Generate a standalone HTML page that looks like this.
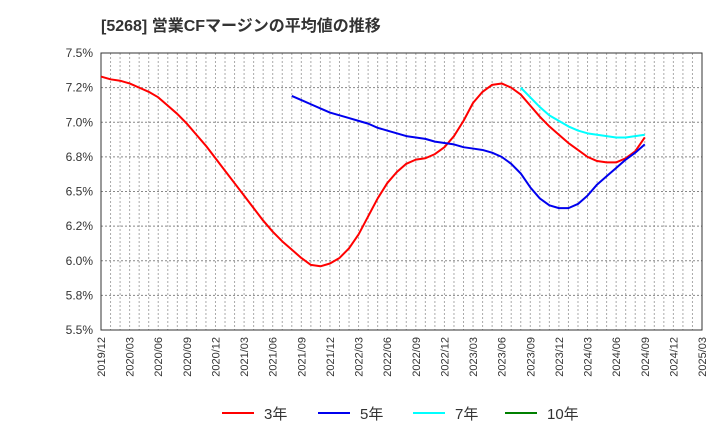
<!DOCTYPE html>
<html><head><meta charset="utf-8"><style>
body{margin:0;background:#fff;}
svg text{font-family:"Liberation Sans","Noto Sans CJK JP",sans-serif;}
</style></head><body>
<svg id="chart" width="720" height="440" xmlns="http://www.w3.org/2000/svg">
<text x="101" y="31" font-size="16" font-weight="bold" fill="#333">[5268]  営業CFマージンの平均値の推移</text>
<g id="grid"></g><g id="axes"></g><g id="series"></g><g id="legend"></g>
</svg>
<script>
const xLabels=["2019/12","2020/03","2020/06","2020/09","2020/12","2021/03","2021/06","2021/09","2021/12","2022/03","2022/06","2022/09","2022/12","2023/03","2023/06","2023/09","2023/12","2024/03","2024/06","2024/09","2024/12","2025/03"];
const yTicks=[5.5,5.75,6.0,6.25,6.5,6.75,7.0,7.25,7.5];
const yTickLabels=["5.5%","5.8%","6.0%","6.2%","6.5%","6.8%","7.0%","7.2%","7.5%"];
const red3=[7.33,7.31,7.30,7.28,7.25,7.22,7.18,7.12,7.06,6.99,6.91,6.83,6.74,6.65,6.56,6.47,6.38,6.29,6.21,6.14,6.08,6.02,5.97,5.96,5.98,6.02,6.09,6.19,6.32,6.45,6.56,6.64,6.70,6.73,6.74,6.77,6.82,6.90,7.01,7.14,7.22,7.27,7.28,7.25,7.20,7.12,7.04,6.97,6.91,6.85,6.80,6.75,6.72,6.71,6.71,6.74,6.79,6.89];
const red3Start=0;
const blue5=[7.19,7.16,7.13,7.10,7.07,7.05,7.03,7.01,6.99,6.96,6.94,6.92,6.90,6.89,6.88,6.86,6.85,6.84,6.82,6.81,6.80,6.78,6.75,6.70,6.63,6.53,6.45,6.40,6.38,6.38,6.41,6.47,6.55,6.61,6.67,6.73,6.78,6.84];
const blue5Start=20;
const cyan7=[7.25,7.18,7.11,7.05,7.01,6.97,6.94,6.92,6.91,6.90,6.89,6.89,6.90,6.91];
const cyan7Start=44;
const green10=[];
const green10Start=0;

const X0=101,X1=702,Y0=330,Y1=53,NM=63;
const xs=i=>X0+(X1-X0)*i/NM;
const ys=v=>Y0-(v-5.5)/2*(Y0-Y1);
const NS="http://www.w3.org/2000/svg";
function mk(tag,parent,attrs){const e=document.createElementNS(NS,tag);for(const k in attrs)e.setAttribute(k,attrs[k]);parent.appendChild(e);return e;}
const grid=document.getElementById('grid'),axes=document.getElementById('axes'),series=document.getElementById('series'),legend=document.getElementById('legend');
for(let m=1;m<NM;m++){const l=mk('line',grid,{x1:xs(m),x2:xs(m),y1:Y1,y2:Y0,stroke:'#aaa','stroke-width':1,'stroke-dasharray':'2,2'});

}
yTicks.forEach((v,i)=>{
 if(i>0&&i<yTicks.length-1){const l=mk('line',grid,{x1:X0,x2:X1,y1:ys(v),y2:ys(v),stroke:'#888','stroke-width':1,'stroke-dasharray':'2,2'});
 
 }
 const t=mk('text',axes,{x:X0-8,y:ys(v)+4,'font-size':12,fill:'#333','text-anchor':'end'});t.textContent=yTickLabels[i];
 
 
});
xLabels.forEach((s,i)=>{const x=xs(i*3);
 const t=mk('text',axes,{x:x+4,y:337,'font-size':11,fill:'#333','text-anchor':'end',transform:`rotate(-90 ${x+4} 337)`});t.textContent=s;
 
 });
const fr=mk('rect',axes,{x:X0,y:Y1,width:X1-X0,height:Y0-Y1,fill:'none',stroke:'#333','stroke-width':1});


function line(vals,start,color,name){if(!vals.length)return;
 const p=mk('polyline',series,{points:vals.map((v,i)=>xs(start+i)+','+ys(v)).join(' '),fill:'none',stroke:color,'stroke-width':2,'stroke-linejoin':'round'});
 
 }
line(red3,red3Start,'#ff0000','line-3yr');
line(blue5,blue5Start,'#0000ee','line-5yr');
line(cyan7,cyan7Start,'#00ffff','line-7yr');
line(green10,green10Start,'#008000','line-10yr');
[["3年","#ff0000",222],["5年","#0000ee",318],["7年","#00ffff",413],["10年","#008000",505]].forEach(([lab,c,x])=>{
 const g=mk('g',legend,{});
 
 
 mk('line',g,{x1:x,x2:x+32,y1:413,y2:413,stroke:c,'stroke-width':2});
 const t=mk('text',g,{x:x+42,y:419,'font-size':15,fill:'#333'});t.textContent=lab;});
</script>
</body></html>
